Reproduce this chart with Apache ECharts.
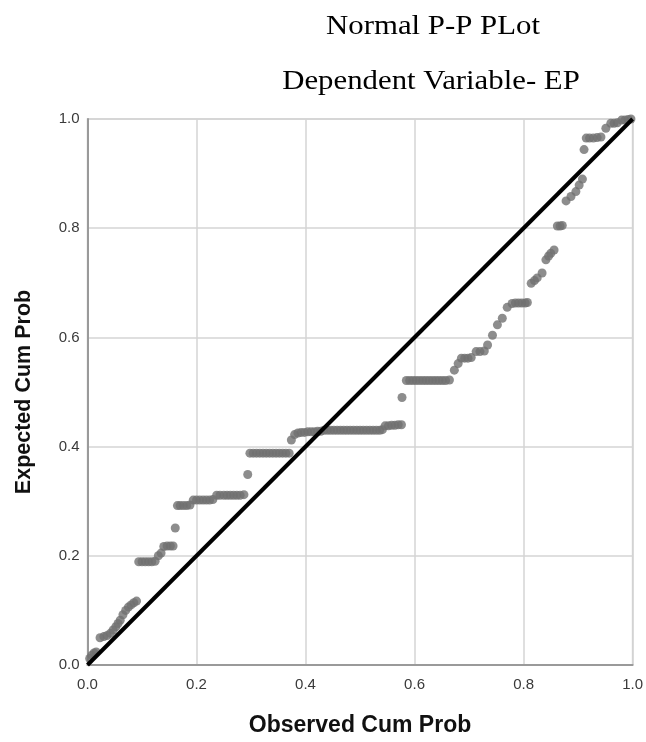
<!DOCTYPE html>
<html>
<head>
<meta charset="utf-8">
<script src="https://cdn.jsdelivr.net/npm/echarts@6/dist/echarts.min.js"></script>
<style>html,body{margin:0;padding:0;background:#fff;}#c{width:646px;height:742px;}</style>
</head>
<body>
<div id="c"></div>
<script>
var titleLines = ['Normal P-P PLot', 'Dependent Variable- EP'];
var xAxisName = 'Observed Cum Prob';
var yAxisName = 'Expected Cum Prob';
var tickValues = [0, 0.2, 0.4, 0.6, 0.8, 1.0];
var refLineX = [0, 1];
var refLineY = [0, 1];

var obsProb = [
  0.004,0.008,0.012,0.016,
  0.023,0.030,0.036,0.042,0.047,0.052,0.056,0.060,0.065,0.070,0.075,0.080,0.085,0.090,
  0.094,0.100,0.106,0.112,0.118,0.124,0.130,0.135,0.140,0.146,0.152,0.157,0.161,
  0.165,0.170,0.176,0.182,0.188,0.194,0.200,0.206,0.212,0.218,0.224,0.230,
  0.237,0.243,0.250,0.256,0.262,0.268,0.274,0.280,0.287,0.294,
  0.298,0.304,0.310,0.316,0.322,0.328,0.334,0.340,0.346,0.352,0.358,0.364,0.370,
  0.374,0.380,0.386,0.392,0.398,0.404,0.410,0.416,0.422,0.428,
  0.434,0.440,0.446,0.452,0.458,0.464,0.470,0.476,0.482,0.488,0.494,0.500,0.506,0.512,0.518,0.524,0.530,0.536,0.541,
  0.546,0.552,0.558,0.564,0.570,0.576,0.577,
  0.585,0.591,0.597,0.603,0.609,0.615,0.621,0.627,0.633,0.639,0.645,0.651,0.657,0.664,
  0.673,0.680,0.686,0.692,0.698,0.704,0.713,0.720,0.728,0.734,0.743,0.752,0.761,0.770,
  0.779,0.785,0.791,0.797,0.803,0.807,0.814,0.820,0.825,0.834,0.841,0.846,0.850,0.856,
  0.862,0.867,0.871,0.878,0.887,0.896,0.902,0.908,0.911,
  0.915,0.921,0.928,0.935,0.942,0.951,0.960,0.966,0.972,0.980,0.986,0.992,0.997
];
var expProb = [
  0.012,0.018,0.022,0.024,
  0.050,0.052,0.054,0.058,0.064,0.070,0.076,0.082,0.092,0.100,0.106,0.110,0.114,0.117,
  0.189,0.189,0.189,0.189,0.189,0.190,0.200,0.205,0.217,0.218,0.218,0.218,0.251,
  0.292,0.292,0.292,0.292,0.293,0.302,0.302,0.302,0.302,0.302,0.302,0.303,
  0.311,0.311,0.311,0.311,0.311,0.311,0.311,0.311,0.312,0.349,
  0.388,0.388,0.388,0.388,0.388,0.388,0.388,0.388,0.388,0.388,0.388,0.388,0.388,
  0.412,0.422,0.425,0.426,0.426,0.427,0.427,0.427,0.428,0.428,
  0.430,0.430,0.430,0.430,0.430,0.430,0.430,0.430,0.430,0.430,0.430,0.430,0.430,0.430,0.430,0.430,0.430,0.430,0.431,
  0.438,0.438,0.439,0.439,0.440,0.440,0.490,
  0.521,0.521,0.521,0.521,0.521,0.521,0.521,0.521,0.521,0.521,0.521,0.521,0.521,0.522,
  0.540,0.552,0.562,0.562,0.562,0.563,0.574,0.574,0.575,0.586,0.604,0.623,0.635,0.655,
  0.662,0.663,0.663,0.663,0.663,0.664,0.699,0.704,0.709,0.718,0.742,0.749,0.754,0.760,
  0.804,0.804,0.805,0.850,0.858,0.867,0.879,0.890,0.944,
  0.965,0.965,0.965,0.966,0.967,0.983,0.992,0.992,0.993,0.998,0.998,0.999,1.000
];

var points = obsProb.map(function (x, i) { return [x, expProb[i]]; });
var refLine = refLineX.map(function (x, i) { return [x, refLineY[i]]; });

var chart = echarts.init(document.getElementById('c'), null, {renderer: 'canvas'});
var axisCommon = {
  type: 'value', min: 0, max: 1, interval: 0.2,
  axisLine: {show: true, lineStyle: {color: '#9a9a9a', width: 2}},
  axisTick: {show: false},
  splitLine: {show: true, lineStyle: {color: '#d4d4d4', width: 1.5}},
  axisLabel: {
    color: '#3a3a3a', fontFamily: 'Liberation Sans, Arial', fontSize: 15,
    formatter: function (v) { return v.toFixed(1); }
  },
  nameLocation: 'middle',
  nameTextStyle: {color: '#111', fontFamily: 'Liberation Sans, Arial', fontWeight: 'bold'}
};
chart.setOption({
  backgroundColor: '#fff',
  animation: false,
  grid: {left: 87.5, top: 119, width: 546, height: 546, show: true, borderColor: '#d0d0d0', borderWidth: 1.5},
  graphic: [
    {type: 'text', x: 433, y: 27, scaleX: 1.1,
      style: {text: titleLines[0], fill: '#000', font: '28px "Liberation Serif", "Times New Roman", serif', textAlign: 'center', textVerticalAlign: 'middle'}},
    {type: 'text', x: 431, y: 82, scaleX: 1.1,
      style: {text: titleLines[1], fill: '#000', font: '28px "Liberation Serif", "Times New Roman", serif', textAlign: 'center', textVerticalAlign: 'middle'}}
  ],
  xAxis: Object.assign({}, axisCommon, {
    name: xAxisName, nameGap: 49,
    nameTextStyle: Object.assign({}, axisCommon.nameTextStyle, {fontSize: 23}),
    axisLabel: Object.assign({}, axisCommon.axisLabel, {margin: 12})
  }),
  yAxis: Object.assign({}, axisCommon, {
    name: yAxisName, nameGap: 52,
    nameTextStyle: Object.assign({}, axisCommon.nameTextStyle, {fontSize: 21.5}),
    axisLabel: Object.assign({}, axisCommon.axisLabel, {margin: 8})
  }),
  series: [
    {
      type: 'scatter', data: points, symbol: 'circle', symbolSize: 9,
      itemStyle: {color: '#707070'}, silent: true, z: 2
    },
    {
      type: 'line', data: refLine, showSymbol: false, symbol: 'none',
      lineStyle: {color: '#000', width: 4}, silent: true, z: 3
    }
  ]
});
</script>
</body>
</html>
